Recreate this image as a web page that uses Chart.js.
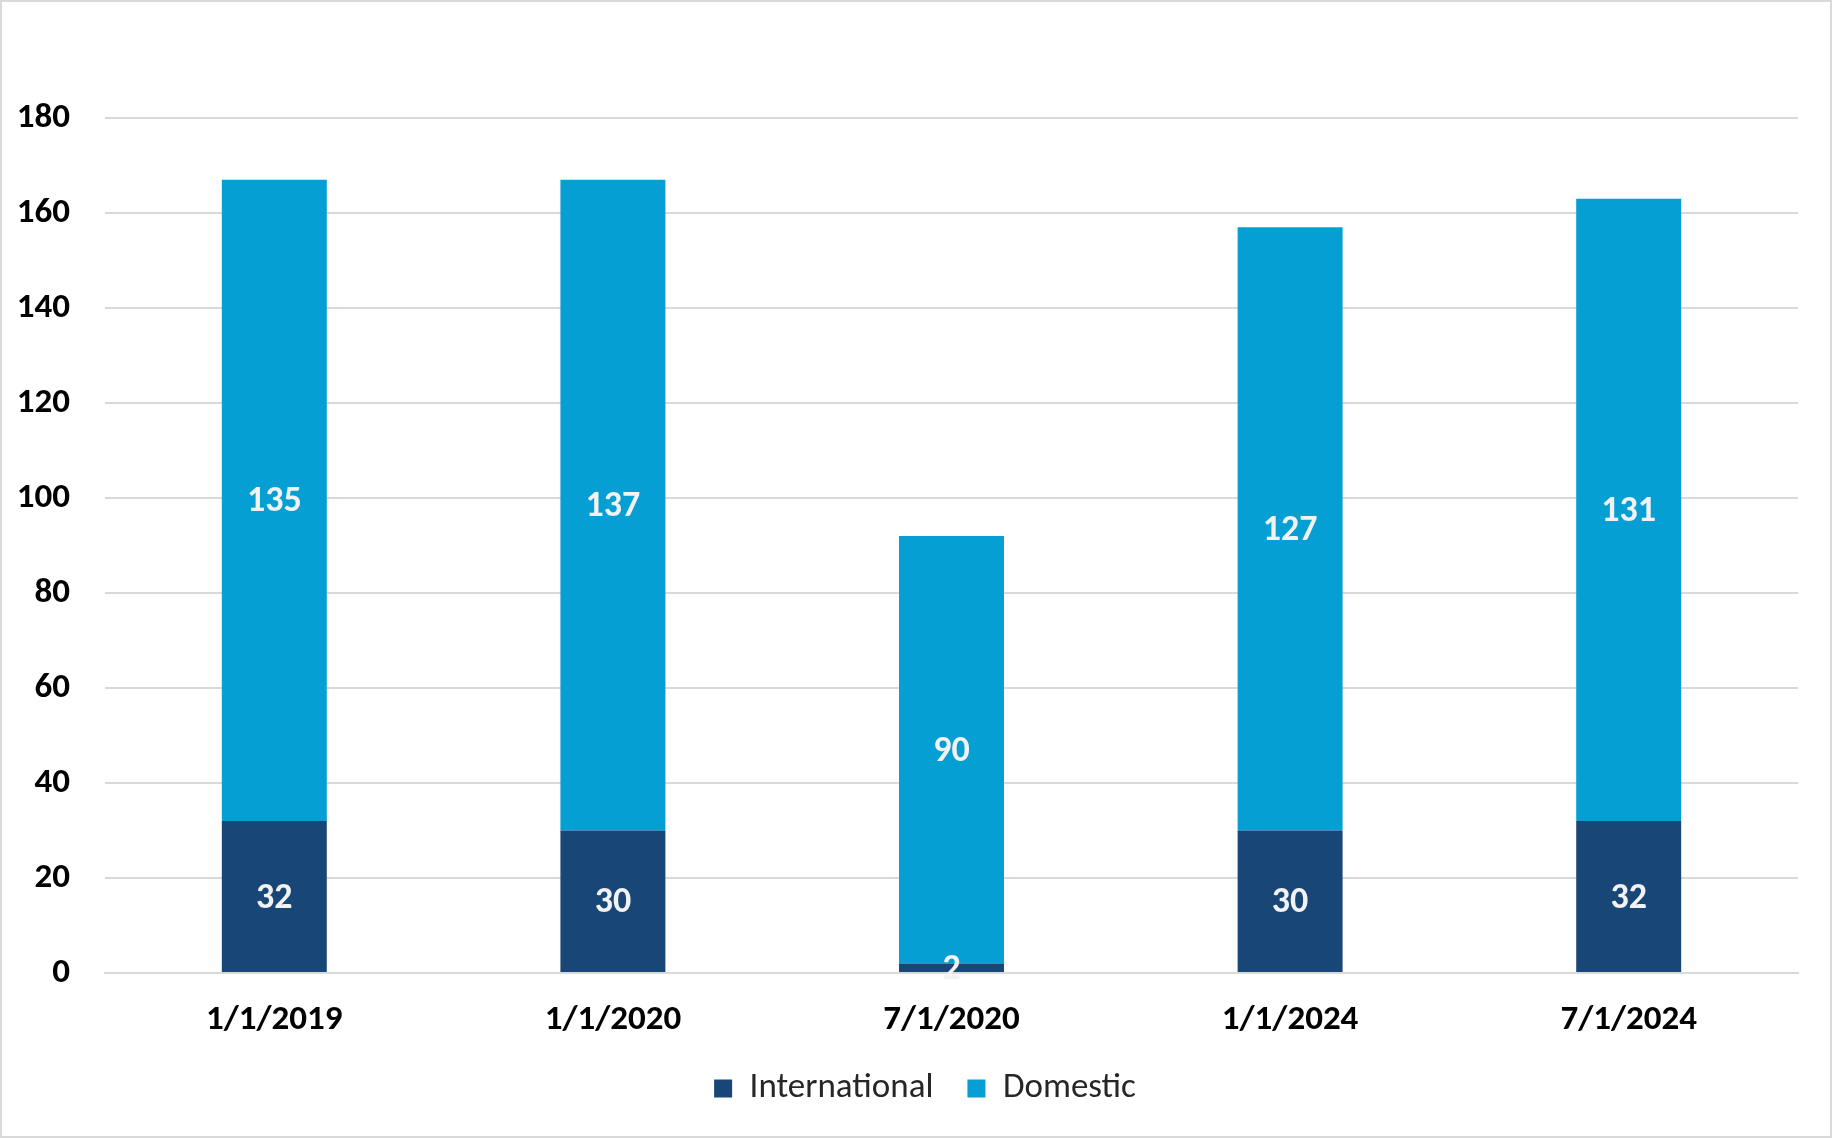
<!DOCTYPE html>
<html>
<head>
<meta charset="utf-8">
<script src="https://cdn.jsdelivr.net/npm/chart.js@4.4.1/dist/chart.umd.min.js"></script>
<style>
  html, body { margin: 0; padding: 0; background: #fff; }
  #wrap {
    width: 1832px; height: 1138px;
    box-sizing: border-box;
    border: 2px solid #d9d9d9;
    position: relative;
  }
</style>
</head>
<body>
<div id="wrap"><canvas id="grafico"></canvas></div>
<script>
// datos del gráfico
const categorias = ["1/1/2019", "1/1/2020", "7/1/2020", "1/1/2024", "7/1/2024"];
const internacional = [32, 30, 2, 30, 32];
const domestico = [135, 137, 90, 127, 131];

const fuente = "Carlito, 'Noto Sans', 'Open Sans', sans-serif";

// etiquetas de valor dentro de cada barra
const etiquetasBarras = {
  id: "etiquetasBarras",
  afterDatasetsDraw(chart) {
    const ctx = chart.ctx;
    ctx.save();
    ctx.font = "bold 36px " + fuente;
    ctx.fillStyle = "#f2f2f2";
    ctx.textAlign = "center";
    ctx.textBaseline = "middle";
    chart.data.datasets.forEach((ds, i) => {
      const meta = chart.getDatasetMeta(i);
      meta.data.forEach((bar, j) => {
        const p = bar.getCenterPoint();
        ctx.fillText(String(ds.data[j]), p.x, p.y + 2);
      });
    });
    ctx.restore();
  }
};

// mover un poco la leyenda hacia la derecha
const moverLeyenda = {
  id: "moverLeyenda",
  afterLayout(chart) {
    if (chart.legend) {
      chart.legend.left += 17;
      chart.legend.right += 17;
    }
  }
};

const ctx = document.getElementById("grafico").getContext("2d");
new Chart(ctx, {
  type: "bar",
  data: {
    labels: categorias,
    datasets: [
      {
        label: "International",
        data: internacional,
        backgroundColor: "#174677",
        categoryPercentage: 1,
        barPercentage: 0.31
      },
      {
        label: "Domestic",
        data: domestico,
        backgroundColor: "#059fd3",
        categoryPercentage: 1,
        barPercentage: 0.31
      }
    ]
  },
  options: {
    responsive: true,
    maintainAspectRatio: false,
    animation: false,
    layout: { padding: { top: 116, left: 16, right: 32, bottom: 20 } },
    scales: {
      x: {
        stacked: true,
        grid: { display: false, drawTicks: false },
        border: { color: "#d9d9d9", width: 2 },
        ticks: { color: "#000", padding: 26, font: { family: fuente, size: 35, weight: "bold" } },
        afterFit(scale) { scale.height = 64; }
      },
      y: {
        stacked: true,
        min: 0,
        max: 180,
        ticks: { stepSize: 20, color: "#000", padding: 35, font: { family: fuente, size: 35, weight: "bold" } },
        grid: { color: "#d9d9d9", lineWidth: 2, drawTicks: false },
        border: { display: false },
        afterFit(scale) { scale.width = 87; }
      }
    },
    plugins: {
      legend: {
        position: "bottom",
        labels: {
          color: "#262626",
          boxWidth: 18,
          boxHeight: 18,
          padding: 34,
          font: { family: fuente, size: 35 }
        }
      },
      tooltip: { enabled: false }
    }
  },
  plugins: [etiquetasBarras, moverLeyenda]
});
</script>
</body>
</html>
